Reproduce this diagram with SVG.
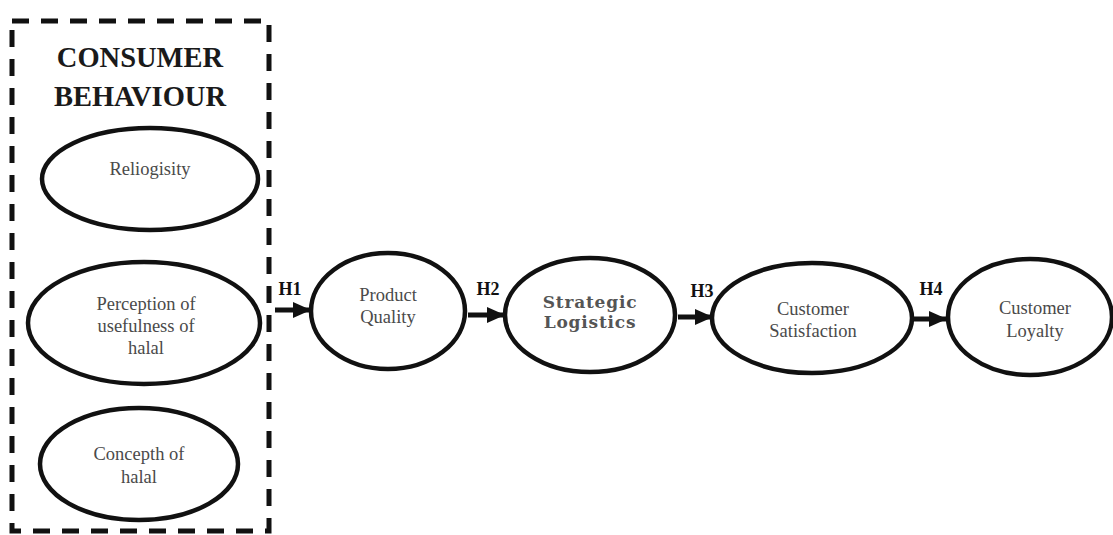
<svg xmlns="http://www.w3.org/2000/svg" width="1113" height="535" viewBox="0 0 1113 535">
<style>
.frame{fill:none;stroke:#111;stroke-width:5;stroke-dasharray:17 12}
.node{fill:#fff;stroke:#111;stroke-width:4.5}
.lbl{font-family:"Liberation Serif","Times New Roman",serif;font-size:18.5px;fill:#4a4a4a;text-anchor:middle}
.title{font-family:"Liberation Serif","Times New Roman",serif;font-size:28.5px;font-weight:bold;fill:#1a1a1a;text-anchor:middle}
.slab{font-family:"DejaVu Serif",serif;font-size:17px;font-weight:bold;fill:#555;text-anchor:middle;letter-spacing:0.8px}
.h{font-family:"Liberation Serif","Times New Roman",serif;font-size:18px;font-weight:bold;fill:#111;text-anchor:middle}
.edge{stroke:#111;stroke-width:5;fill:none}
</style>
<defs>
<marker id="ah" markerUnits="userSpaceOnUse" markerWidth="20" markerHeight="18" refX="18" refY="9" orient="auto">
<path d="M0,1 L18,9 L0,17 Z" fill="#111"/>
</marker>
</defs>
<rect width="1113" height="535" fill="#fff"/>
<g id="consumer-behaviour">
<rect class="frame" x="12" y="21" width="257" height="510"/>
<text class="title" x="140" y="67">CONSUMER</text>
<text class="title" x="140" y="106">BEHAVIOUR</text>
</g>
<g id="reliogisity">
<ellipse class="node" cx="150" cy="179" rx="108" ry="51"/>
<text class="lbl" x="150" y="175">Reliogisity</text>
</g>
<g id="perception">
<ellipse class="node" cx="144" cy="323" rx="116" ry="61"/>
<text class="lbl" x="146" y="310">Perception of</text>
<text class="lbl" x="146" y="332">usefulness of</text>
<text class="lbl" x="146" y="354">halal</text>
</g>
<g id="concepth">
<ellipse class="node" cx="139" cy="464" rx="99" ry="56"/>
<text class="lbl" x="139" y="460">Concepth of</text>
<text class="lbl" x="139" y="483">halal</text>
</g>
<g id="product-quality">
<ellipse class="node" cx="388" cy="311" rx="77" ry="58"/>
<text class="lbl" x="388" y="301">Product</text>
<text class="lbl" x="388" y="323">Quality</text>
</g>
<g id="strategic-logistics">
<ellipse class="node" cx="590" cy="315" rx="85" ry="57"/>
<text class="slab" x="590" y="308">Strategic</text>
<text class="slab" x="590" y="328">Logistics</text>
</g>
<g id="customer-satisfaction">
<ellipse class="node" cx="812" cy="318" rx="100" ry="55"/>
<text class="lbl" x="813" y="315">Customer</text>
<text class="lbl" x="813" y="337">Satisfaction</text>
</g>
<g id="customer-loyalty">
<ellipse class="node" cx="1030" cy="317" rx="82" ry="58"/>
<text class="lbl" x="1035" y="314">Customer</text>
<text class="lbl" x="1035" y="337">Loyalty</text>
</g>
<g id="connectors">
<line class="edge" x1="275" y1="310" x2="311" y2="310" marker-end="url(#ah)"/>
<line class="edge" x1="468" y1="315" x2="505" y2="315" marker-end="url(#ah)"/>
<line class="edge" x1="678" y1="317" x2="713" y2="317" marker-end="url(#ah)"/>
<line class="edge" x1="912" y1="319" x2="947" y2="319" marker-end="url(#ah)"/>
<text class="h" x="290" y="295">H1</text>
<text class="h" x="488" y="295">H2</text>
<text class="h" x="702" y="297">H3</text>
<text class="h" x="931" y="295">H4</text>
</g>
</svg>
